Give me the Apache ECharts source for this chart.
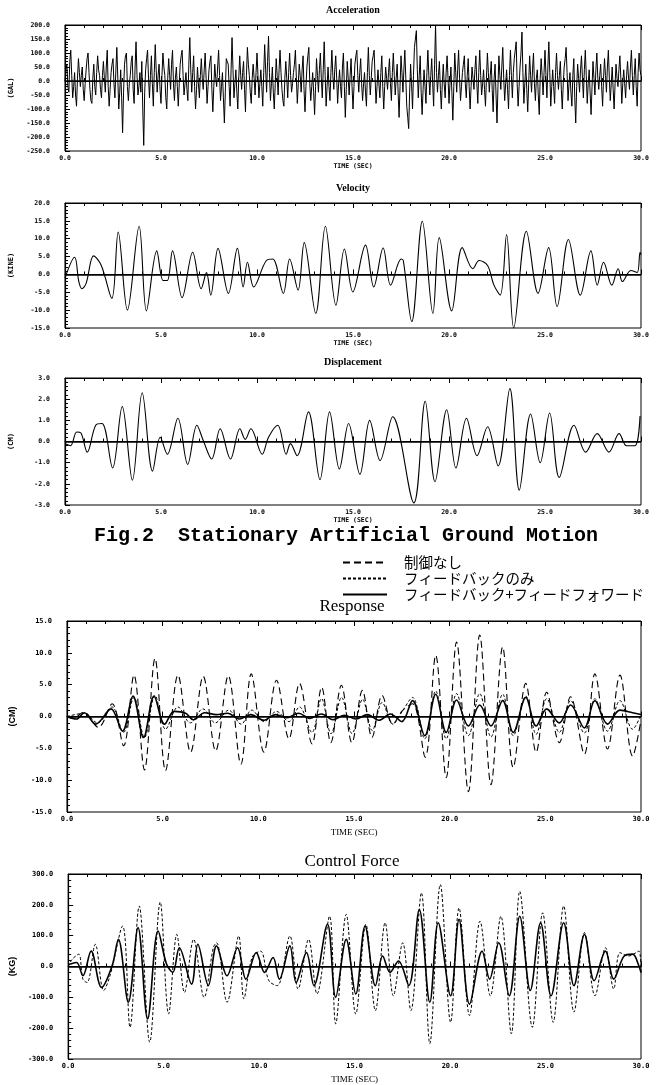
<!DOCTYPE html>
<html>
<head>
<meta charset="utf-8">
<script src="https://cdn.jsdelivr.net/npm/echarts@6/dist/echarts.min.js"></script>
<style>
html,body{margin:0;padding:0;background:#fff;}
#main{width:662px;height:1085px;}
</style>
</head>
<body>
<div id="main"></div>
<script>
// acceleration (GAL), one value every 0.05 s from 0 to 30 s
var accVals = [
  0, 40, 60, -20, -40, 70, 110, 20, -60, -20, 30, -50, -90, 10, 80, 30, -20, 20, 50, -30,
  -70, -10, 40, 80, 100, 30, -30, -70, -80, 10, 60, -20, -50, 30, 90, 40, 20, -30, -60, 20,
  70, 10, -40, 50, 110, -20, -90, -30, 30, 60, 80, -10, -60, 40, 120, 10, -100, -40, 40, -60,
  -185, -40, 60, 90, 100, -20, -70, -10, 20, 70, 90, -30, -80, 50, 140, 20, -50, -20, 30, -40,
  70, -100, -230, -40, 40, 80, 110, 10, -60, 20, 90, -10, -90, 30, 130, 40, -40, 20, 60, -30,
  -80, 20, 100, 50, 20, -60, -100, 10, 80, 20, -30, 60, 110, -10, -70, 10, 50, -20, -90, -10,
  60, 90, 110, 20, -50, -10, 30, -30, -70, 60, 155, 40, -40, 30, 90, -20, -100, -30, 50, -10,
  -60, 20, 80, 10, -30, 40, 100, 10, -80, -20, 40, 70, 90, -30, -110, -20, 60, 10, -20, 50,
  110, 20, -70, -20, 30, -60, -150, -40, 80, 70, 60, -20, -90, 40, 155, 40, -60, -10, 40, -40,
  -100, 10, 90, 20, -30, 30, 70, -30, -110, 20, 120, 60, 20, -40, -80, 10, 60, 10, -50, 30,
  100, 20, -60, -10, 40, -20, -90, 30, 130, 40, -40, 70, 160, 30, -70, -10, 50, -40, -100, -10,
  80, 20, -50, 40, 110, 30, -30, -70, -90, 10, 70, 10, -60, 30, 100, 20, -40, -10, 30, 60,
  110, 10, -80, -10, 60, 20, -40, 40, 90, -30, -110, -20, 50, 90, 120, -10, -70, -20, 30, -40,
  -120, -20, 80, 20, -40, 40, 100, 10, -60, 40, 140, 20, -90, -20, 50, -20, -70, 30, 110, 20,
  -30, 40, 90, 10, -80, -10, 40, -20, -60, 50, 100, -20, -130, -30, 70, 10, -50, 20, 80, -20,
  -100, -20, 60, 90, 110, 20, -40, 30, 80, -10, -70, -10, 30, -40, -90, 30, 120, 20, -50, 10,
  70, 90, 110, 10, -80, -20, 40, -10, -60, 30, 90, -20, -100, -20, 50, 10, -30, 30, 80, -10,
  -70, 30, 100, 20, -50, 10, 60, -40, -130, -20, 90, 30, -40, 40, 110, 10, -90, -130, -170, -40,
  60, -10, -100, 20, 120, 150, 180, 40, -60, 20, 90, -40, -120, -30, 40, -20, -80, 30, 110, 20,
  -50, 20, 80, -10, -90, 60, 200, 30, -40, 20, 70, -30, -100, -10, 60, -10, -60, 30, 90, 10,
  -80, -10, 50, -40, -140, -20, 100, 30, -40, 40, 110, 10, -70, -20, 30, 60, 90, -10, -60, 20,
  80, -20, -100, -20, 50, 10, -30, 40, 90, -10, -80, 30, 110, 20, -50, -10, 40, -30, -90, 10,
  100, 30, -40, 20, 70, -30, -110, 10, 60, -50, -150, -20, 90, 20, -30, 50, 120, 10, -70, -10,
  40, -30, -100, 20, 110, 20, -60, 30, 80, 110, 140, -10, -90, -20, 50, 100, 175, 30, -80, -10,
  60, -30, -110, -10, 90, 20, -40, 40, 100, -10, -70, 10, 40, -50, -120, 10, 80, 20, -50, 30,
  110, 20, -60, 50, 140, 30, -90, -20, 40, -20, -80, 30, 100, 20, -30, 20, 70, -30, -100, -10,
  50, 80, 120, 30, -70, -10, 30, -40, -90, 20, 80, -60, -150, -20, 60, 10, -40, 40, 90, 10,
  -60, 40, 110, 20, -80, -10, 40, -40, -120, -20, 70, 10, -50, 40, 100, 10, -30, 20, 60, -20,
  -90, 10, 80, 20, -40, 50, 110, 10, -70, -10, 50, -30, -100, -10, 60, 10, -20, 40, 90, 10,
  -80, -10, 40, -10, -60, 20, 70, 10, -30, 50, 110, 20, -50, 20, 80, -20, -90, 30, 100, 40,
  20
];

// velocity (KINE)
var velT = [0, 0.5, 0.72, 0.88, 1.1, 1.49, 1.89, 2.44, 2.77, 3.25, 3.86, 4.24, 4.78, 5.11, 5.33, 5.6, 6.1, 6.65, 7.09, 7.37,
  7.59, 7.97, 8.51, 8.98, 9.28, 9.5, 9.83, 10.49, 10.82, 11.37, 11.7, 12.14, 12.46, 13.06, 13.56, 14.11, 14.55, 14.99, 15.65, 16.08,
  16.57, 16.96, 17.51, 17.62, 18.06, 18.61, 19.16, 19.49, 20.14, 20.69, 21.24, 21.57, 22.01, 22.34, 22.67, 23.0, 23.37, 24.03, 24.64, 25.19,
  25.63, 26.22, 26.84, 27.39, 27.72, 28.05, 28.48, 28.81, 29.03, 29.47, 29.8, 29.95, 30];
var velV = [-1.0, 4.8, -2.0, -4.0, -2.5, 5.2, 2.5, -6.7, 11.9, -10.0, 13.5, -10.2, 6.6, -1.7, -1.7, 6.6, -6.5, 6.2, -4.0, 0.5,
  -5.8, 7.3, -5.3, 7.3, -3.5, 3.4, -3.5, 3.9, 4.3, -5.3, 4.3, -4.4, 8.9, -10.9, 13.5, -8.6, 7.1, -4.9, 8.2, -3.5,
  7.4, -3.0, 4.3, 3.9, -13.2, 14.9, -10.9, 10.3, -10.2, 7.5, 1.6, 3.9, 2.5, -3.0, -5.8, 11.2, -15.0, 12.1, -5.3, 7.5,
  -9.0, 9.8, -5.8, 6.6, -3.0, 3.4, -3.0, 1.6, -2.0, 1.1, 0.5, 6.2, 5.5];

// displacement (CM)
var dispT = [0, 0.29, 0.61, 0.83, 1.16, 1.6, 1.93, 2.48, 2.98, 3.51, 4.02, 4.56, 4.96, 5.33, 5.88, 6.39, 6.87, 7.2, 7.64, 8.08,
  8.62, 9.11, 9.39, 9.68, 10.27, 10.6, 11.08, 11.52, 11.74, 12.09, 12.68, 13.28, 13.78, 14.29, 14.77, 15.36, 15.87, 16.41, 17.07, 18.17,
  18.76, 19.27, 19.88, 20.36, 20.91, 21.46, 22.01, 22.56, 23.17, 23.66, 24.25, 24.75, 25.24, 25.74, 26.51, 27.12, 27.72, 28.33, 28.86, 29.25,
  29.69, 29.95];
var dispV = [-0.1, -0.2, 0.45, 0.4, -0.5, 0.77, 0.85, -1.25, 1.65, -1.83, 2.3, -1.4, 0.2, -0.6, 1.1, -1.08, 0.77, 0.05, -0.83, 0.6,
  -0.83, 0.6, 0.1, 0.6, -0.6, 0.2, 0.77, -0.6, -0.1, -0.67, 1.4, -1.8, 1.4, -1.3, 0.85, -1.55, 1.0, -0.9, 1.17, -2.9,
  1.9, -1.9, 1.5, -1.25, 1.1, -0.67, 0.7, -1.15, 2.5, -2.3, 1.3, -1.0, 1.35, -1.7, 0.77, -0.5, 0.37, -0.5, 0.37, -0.2,
  -0.2, 1.2];

// response (CM)
var respNoneT = [0, 0.33, 0.88, 1.64, 2.36, 2.96, 3.5, 4.05, 4.6, 5.15, 5.8, 6.46, 7.12, 7.77, 8.43, 9.09, 9.63, 10.29, 10.95, 11.6,
  12.15, 12.81, 13.31, 13.79, 14.34, 14.89, 15.44, 15.94, 16.47, 17.03, 17.52, 18.06, 18.72, 19.27, 19.82, 20.36, 20.98, 21.57, 22.16, 22.77,
  23.32, 23.98, 24.52, 25.07, 25.73, 26.32, 27.04, 27.59, 28.25, 28.9, 29.56, 30];
var respNoneV = [0, -0.3, 0.7, -1.7, 2.0, -4.6, 6.5, -8.4, 9.1, -8.5, 6.5, -5.6, 6.3, -5.4, 6.4, -7.5, 6.7, -5.6, 5.7, -3.5,
  5.2, -4.3, 4.6, -4.1, 4.9, -4.1, 4.1, -3.3, 3.3, -1.2, 0.9, 2.0, -6.4, 9.6, -9.6, 11.7, -11.8, 12.8, -10.7, 10.9,
  -8.0, 5.2, -5.6, 3.8, -4.1, 3.1, -5.9, 6.7, -5.1, 6.5, -6.2, -0.6];
var respFbT = [0, 0.9, 1.6, 2.35, 2.95, 3.5, 4.05, 4.6, 5.15, 5.8, 6.45, 7.1, 7.75, 8.45, 9.1, 9.65, 10.3, 10.95, 11.6, 12.15,
  12.8, 13.3, 13.8, 14.35, 14.9, 15.45, 15.95, 16.47, 17.03, 17.52, 18.06, 18.7, 19.27, 19.82, 20.36, 20.98, 21.57, 22.16, 22.77, 23.32,
  23.98, 24.52, 25.07, 25.73, 26.32, 27.04, 27.59, 28.25, 28.9, 29.56, 30];
var respFbV = [0, 0.5, -1.0, 1.5, -2.5, 3.0, -3.3, 3.3, -2.0, 1.5, -1.0, 1.2, -1.0, 1.0, -1.2, 1.0, -0.8, 0.8, -0.8, 1.5,
  -2.5, 2.8, -2.7, 3.0, -2.7, 2.7, -2.2, 2.2, -1.2, 0.8, 3.0, -3.5, 4.0, -3.5, 3.6, -3.0, 3.6, -3.2, 3.5, -3.0,
  3.2, -2.8, 2.8, -2.5, 2.5, -2.6, 2.8, -2.3, 2.5, -2.0, 0.3];
var respFfT = [0, 0.5, 0.9, 1.5, 2.3, 2.9, 3.45, 4.0, 4.55, 5.1, 5.6, 6.2, 6.6, 7.2, 7.8, 8.4, 9.0, 9.6, 10.3, 10.9,
  11.5, 12.1, 12.7, 13.3, 13.9, 14.5, 15.1, 15.7, 16.3, 16.9, 17.5, 18.06, 18.7, 19.27, 19.82, 20.36, 20.98, 21.57, 22.16, 22.77,
  23.32, 23.98, 24.52, 25.07, 25.73, 26.32, 27.04, 27.59, 28.25, 28.9, 29.56, 30];
var respFfV = [0, -0.4, 0.6, -1.2, 1.2, -2.3, 3.2, -3.3, 3.2, -1.2, 0.8, 0.5, -0.5, 0.6, 0.3, 0.5, -0.4, 0.3, -0.6, 0.3,
  -0.2, 0.5, -0.3, 0.4, -0.5, 0.2, -0.4, 0.3, -0.6, 0.4, -0.8, 2.5, -3.0, 3.5, -2.5, 2.6, -1.5, 1.8, -1.5, 2.5,
  -2.5, 3.0, -1.5, 1.2, -1.0, 1.8, -1.8, 2.5, -1.2, 1.0, 0.6, 0.3];

// control force (KG)
var forceFbT = [0, 0.22, 0.55, 0.77, 0.99, 1.42, 1.86, 2.19, 2.85, 3.24, 3.72, 4.27, 4.82, 5.26, 5.69, 6.09, 6.57, 7.12, 7.6, 7.77,
  8.32, 8.93, 9.2, 9.63, 10.07, 10.51, 10.95, 11.61, 12.04, 12.59, 13.03, 13.69, 14.01, 14.56, 15.06, 15.59, 16.09, 16.6, 17.03, 17.52,
  17.95, 18.5, 18.94, 19.49, 20.03, 20.47, 21.02, 21.57, 22.11, 22.66, 23.21, 23.65, 24.31, 24.85, 25.4, 25.95, 26.49, 27.04, 27.59, 28.14,
  28.57, 28.9, 29.34, 29.89, 30];
var forceFbV = [0, 24, 40, -41, -52, 72, -78, -30, 131, -197, 196, -245, 209, -154, 104, -84, 88, -100, 61, 77,
  -116, 99, -105, 29, 50, -46, -62, 99, -73, 88, -89, 163, -186, 169, -154, 137, -143, 142, -95, 77,
  -143, 239, -250, 266, -181, 190, -159, 147, -95, 163, -218, 244, -197, 174, -181, 196, -148, 110, -95, 61,
  -73, 45, 34, 50, -19];
var forceFfT = [0, 0.11, 0.44, 0.77, 1.2, 1.75, 2.3, 2.63, 3.15, 3.66, 4.16, 4.71, 5.15, 5.48, 5.82, 6.46, 6.79, 7.34, 7.77, 8.32,
  8.87, 9.31, 9.85, 10.29, 10.73, 11.06, 11.61, 11.94, 12.48, 12.87, 13.58, 14.01, 14.56, 15.06, 15.55, 16.09, 16.47, 16.86, 17.3, 17.84,
  18.39, 18.94, 19.38, 20.03, 20.47, 21.02, 21.68, 22.07, 22.55, 23.1, 23.65, 24.2, 24.74, 25.29, 25.95, 26.49, 27.04, 27.55, 28.14, 28.57,
  29.12, 29.56, 29.89, 30];
var forceFfV = [5, 8, 13, -30, 50, -68, 2, 88, -116, 126, -170, 115, 8, -19, 61, -57, 72, -62, 67, -30,
  61, -41, 45, -19, 29, -41, 67, -52, 45, -62, 137, -100, 88, -89, 131, -62, 34, -19, 18, -62,
  185, -116, 142, -95, 153, -122, 50, -41, 77, -95, 163, -78, 142, -95, 142, -62, 104, -46, 50, -41,
  34, 40, 2, -20];

var seriesNames = ['制御なし', 'フィードバックのみ', 'フィードバック+フィードフォワード'];

function pairs(t, v) {
  return t.map(function (x, i) { return [x, v[i]]; });
}
var accData = accVals.map(function (v, i) { return [i / 20, v]; });

// panel placement
var panels = [
  {top: 25, height: 126, min: -250, max: 200, step: 50, unit: '(GAL)'},
  {top: 203, height: 125, min: -15, max: 20, step: 5, unit: '(KINE)'},
  {top: 378, height: 127, min: -3, max: 3, step: 1, unit: '(CM)'},
  {top: 621, height: 191, min: -15, max: 15, step: 5, unit: '(CM)'},
  {top: 874, height: 189, min: -300, max: 300, step: 100, unit: '(KG)'}
];

var tinyFont = {fontSize: 6.5, fontWeight: 'bold', fontFamily: 'DejaVu Sans Mono', color: '#000'};

var grids = [], xAxes = [], yAxes = [];
panels.forEach(function (p, i) {
  grids.push({left: 65, right: 21, top: p.top, height: p.height, show: true,
    borderColor: '#000', borderWidth: 1, backgroundColor: 'transparent'});
  var big = i >= 3;
  var xBase = {
    type: 'value', gridIndex: i, min: 0, max: 30, interval: 5,
    axisLine: {lineStyle: {color: '#000', width: 1}},
    axisTick: {inside: true, length: 5, lineStyle: {color: '#000'}},
    minorTick: {show: true, splitNumber: 5, length: 3, lineStyle: {color: '#000'}},
    splitLine: {show: false}
  };
  xAxes.push(Object.assign({}, xBase, {
    position: 'bottom',
    axisLabel: Object.assign({margin: 4, formatter: function (v) { return v.toFixed(1); }}, tinyFont,
      big ? {fontSize: 7} : {}),
    name: 'TIME (SEC)', nameLocation: 'middle', nameGap: big ? 16 : 12,
    nameTextStyle: Object.assign({}, tinyFont, big ? {fontSize: 9, fontWeight: 'normal', fontFamily: 'Liberation Serif'} : {})
  }));
  xAxes.push(Object.assign({}, xBase, {position: 'top', axisLabel: {show: false}}));
  yAxes.push({
    type: 'value', gridIndex: i, min: p.min, max: p.max, interval: p.step,
    axisLine: {lineStyle: {color: '#000', width: 1.2}},
    axisTick: {inside: true, length: 5, lineStyle: {color: '#000'}},
    minorTick: {show: true, splitNumber: 5, length: 3, lineStyle: {color: '#000'}},
    splitLine: {show: false},
    axisLabel: Object.assign({margin: 15, formatter: function (v) { return v.toFixed(1); }}, tinyFont,
      big ? {fontSize: 7} : {}),
    name: p.unit, nameLocation: 'middle', nameRotate: 90, nameGap: 50,
    nameTextStyle: Object.assign({}, tinyFont, big ? {fontSize: 9, fontFamily: 'Liberation Sans'} : {fontSize: 7})
  });
});

var zeroLine = {
  silent: true, symbol: ['none', 'none'], label: {show: false},
  lineStyle: {color: '#000', type: 'solid', width: 1.6},
  data: [{yAxis: 0}]
};

function line(name, idx, data, style) {
  return {
    name: name, type: 'line', xAxisIndex: idx * 2, yAxisIndex: idx, data: data,
    symbol: 'none', smooth: style.smooth === undefined ? 0.35 : style.smooth,
    lineStyle: {color: '#000', width: style.width || 1, type: style.type || 'solid'},
    itemStyle: {color: '#000'}
  };
}

var s0 = line('acc', 0, accData, {width: 1, smooth: false});
s0.markLine = zeroLine;
var s1 = line('vel', 1, pairs(velT, velV), {width: 1.1});
s1.markLine = zeroLine;
var s2 = line('disp', 2, pairs(dispT, dispV), {width: 1.1});
s2.markLine = zeroLine;
var s3 = line(seriesNames[0], 3, pairs(respNoneT, respNoneV), {width: 1.1, type: [7, 4]});
s3.markLine = zeroLine;
var s4 = line(seriesNames[1], 3, pairs(respFbT, respFbV), {width: 1, type: [3, 2]});
var s5 = line(seriesNames[2], 3, pairs(respFfT, respFfV), {width: 1.6});
var s6 = line(seriesNames[1], 4, pairs(forceFbT, forceFbV), {width: 1, type: [3, 2]});
s6.markLine = zeroLine;
var s7 = line(seriesNames[2], 4, pairs(forceFfT, forceFfV), {width: 1.6});

function label(text, x, y, font) {
  return {type: 'text', x: x, y: y, style: Object.assign({text: text, fill: '#000', align: 'center', verticalAlign: 'middle'}, font)};
}

var chart = echarts.init(document.getElementById('main'), null, {renderer: 'canvas'});
chart.setOption({
  animation: false,
  backgroundColor: '#fff',
  grid: grids,
  xAxis: xAxes,
  yAxis: yAxes,
  legend: {
    data: seriesNames, orient: 'vertical', left: 337, top: 550,
    itemWidth: 44, itemHeight: 10, itemGap: 1, selectedMode: false,
    itemStyle: {opacity: 0},
    textStyle: {fontSize: 14.5, lineHeight: 15, color: '#000', fontFamily: 'Noto Sans CJK JP', padding: [0, 0, 0, 12]}
  },
  graphic: [
    label('Acceleration', 353, 10, {font: 'bold 10px "Liberation Serif"'}),
    label('Velocity', 353, 188, {font: 'bold 10px "Liberation Serif"'}),
    label('Displacement', 353, 362, {font: 'bold 10px "Liberation Serif"'}),
    label('Fig.2  Stationary Artificial Ground Motion', 346, 536, {font: 'bold 20px "Liberation Mono"'}),
    label('Response', 352, 607, {font: '17px "Liberation Serif"'}),
    label('Control Force', 352, 862, {font: '17px "Liberation Serif"'})
  ],
  series: [s0, s1, s2, s3, s4, s5, s6, s7]
});
</script>
</body>
</html>
